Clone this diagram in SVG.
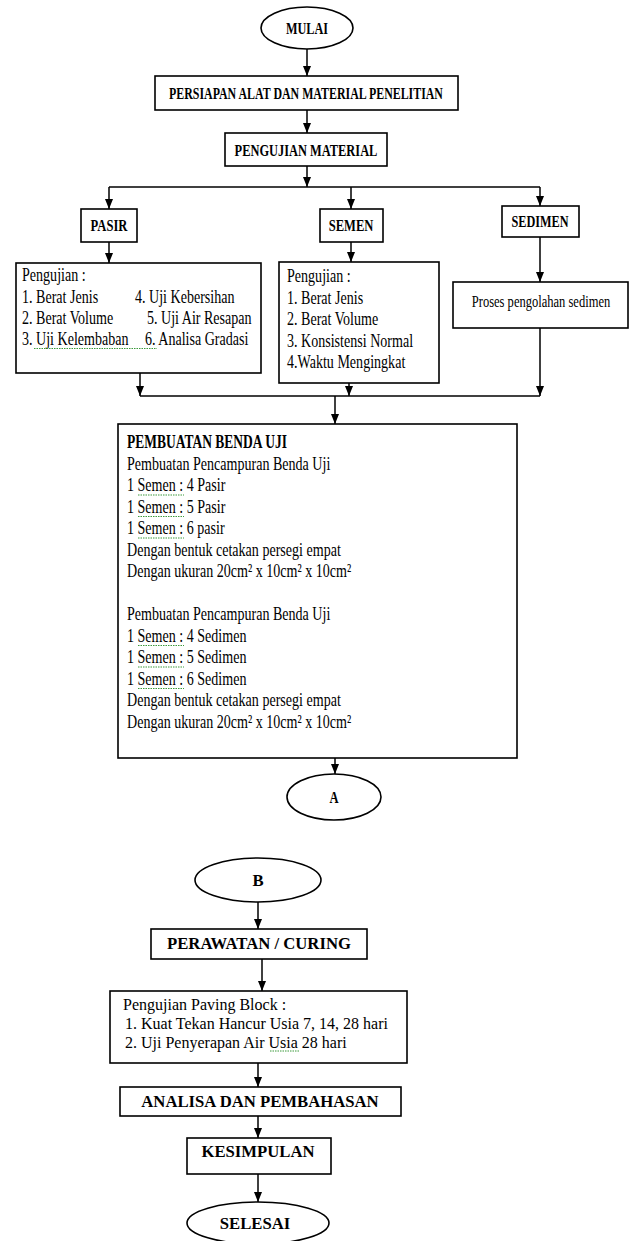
<svg xmlns="http://www.w3.org/2000/svg" width="640" height="1241" viewBox="0 0 640 1241">
<style>
.t{font-family:"Liberation Serif","Times New Roman",serif;fill:#000}
.tt{font-size:17px;font-weight:bold}
.tx{font-size:19px}
.tp{font-size:16.5px}
.bt{font-size:16.7px;font-weight:bold}
.bx{font-size:16px}
.box{fill:#fff;stroke:#000;stroke-width:1.6}
.ln{fill:none;stroke:#000;stroke-width:1.5}
.sq{fill:none;stroke:#3c9a3c;stroke-width:1.2;stroke-dasharray:1.5 1}
</style>
<defs>
<marker id="ah" markerUnits="userSpaceOnUse" markerWidth="10" markerHeight="8" viewBox="0 0 10 8" refX="10" refY="4" orient="auto">
<path d="M0,0 L10,4 L0,8 z" fill="#000"/>
</marker>
</defs>
<rect width="640" height="1241" fill="#fff"/>

<g id="connectors">
<path class="ln" d="M307,49 V76" marker-end="url(#ah)"/>
<path class="ln" d="M307,110 V133" marker-end="url(#ah)"/>
<path class="ln" d="M307,166 V187" marker-end="url(#ah)"/>
<path class="ln" d="M109,187 H540"/>
<path class="ln" d="M109,187 V209" marker-end="url(#ah)"/>
<path class="ln" d="M351,187 V209" marker-end="url(#ah)"/>
<path class="ln" d="M540,187 V206" marker-end="url(#ah)"/>
<path class="ln" d="M109,242 V263" marker-end="url(#ah)"/>
<path class="ln" d="M351,242 V262" marker-end="url(#ah)"/>
<path class="ln" d="M540,237 V282" marker-end="url(#ah)"/>
<path class="ln" d="M140,373 V396" marker-end="url(#ah)"/>
<path class="ln" d="M349,370 V396" marker-end="url(#ah)"/>
<path class="ln" d="M540,328 V396" marker-end="url(#ah)"/>
<path class="ln" d="M140,396 H540"/>
<path class="ln" d="M335,396 V424" marker-end="url(#ah)"/>
<path class="ln" d="M335,752 V774" marker-end="url(#ah)"/>
<path class="ln" d="M258,902 V929" marker-end="url(#ah)"/>
<path class="ln" d="M262,959 V991" marker-end="url(#ah)"/>
<path class="ln" d="M258,1063 V1087" marker-end="url(#ah)"/>
<path class="ln" d="M258,1116 V1138" marker-end="url(#ah)"/>
<path class="ln" d="M258,1174 V1202" marker-end="url(#ah)"/>
</g>

<g id="mulai">
<ellipse class="box" cx="307" cy="28" rx="46" ry="21"/>
<text class="t tt" text-anchor="middle" transform="translate(307 34) scale(0.72 1)">MULAI</text>
</g>

<g id="persiapan">
<rect class="box" x="155" y="76" width="303" height="34"/>
<text class="t tt" text-anchor="middle" transform="translate(306 99) scale(0.7 1)">PERSIAPAN ALAT DAN MATERIAL PENELITIAN</text>
</g>

<g id="pengujian-material">
<rect class="box" x="225" y="133" width="162" height="33"/>
<text class="t tt" text-anchor="middle" transform="translate(306 155.5) scale(0.73 1)">PENGUJIAN MATERIAL</text>
</g>

<g id="pasir">
<rect class="box" x="81" y="209" width="56" height="33"/>
<text class="t tt" text-anchor="middle" transform="translate(109 231) scale(0.74 1)">PASIR</text>
</g>

<g id="semen">
<rect class="box" x="320" y="209" width="63" height="33"/>
<text class="t tt" text-anchor="middle" transform="translate(351 231) scale(0.74 1)">SEMEN</text>
</g>

<g id="sedimen">
<rect class="box" x="502" y="206" width="77" height="31"/>
<text class="t tt" text-anchor="middle" transform="translate(540 227) scale(0.72 1)">SEDIMEN</text>
</g>

<g id="uji-pasir">
<rect class="box" x="16" y="263" width="245" height="110"/>
<text class="t tx" transform="translate(22 281) scale(0.74 1)">Pengujian :</text>
<text class="t tx" transform="translate(22 302.5) scale(0.74 1)">1. Berat Jenis</text>
<text class="t tx" transform="translate(135 302.5) scale(0.74 1)">4. Uji Kebersihan</text>
<text class="t tx" transform="translate(22 323.5) scale(0.74 1)">2. Berat Volume</text>
<text class="t tx" transform="translate(147 323.5) scale(0.74 1)">5. Uji Air Resapan</text>
<text class="t tx" transform="translate(22 344.5) scale(0.74 1)">3. Uji Kelembaban</text>
<text class="t tx" transform="translate(145 344.5) scale(0.74 1)">6. Analisa Gradasi</text>
<path class="sq" d="M34,348.5 H157"/>
</g>

<g id="uji-semen">
<rect class="box" x="279" y="262" width="160" height="121"/>
<text class="t tx" transform="translate(287 282) scale(0.74 1)">Pengujian :</text>
<text class="t tx" transform="translate(287 303.5) scale(0.74 1)">1. Berat Jenis</text>
<text class="t tx" transform="translate(287 325) scale(0.74 1)">2. Berat Volume</text>
<text class="t tx" transform="translate(287 346.5) scale(0.74 1)">3. Konsistensi Normal</text>
<text class="t tx" transform="translate(287 368) scale(0.74 1)">4.Waktu Mengingkat</text>
</g>

<g id="proses-sedimen">
<rect class="box" x="453" y="282" width="175" height="46"/>
<text class="t tp" text-anchor="middle" transform="translate(541 307) scale(0.76 1)">Proses pengolahan sedimen</text>
</g>

<g id="pembuatan">
<rect class="box" x="118" y="424" width="399" height="334"/>
<text class="t" font-size="18.5" font-weight="bold" transform="translate(127 448) scale(0.73 1)">PEMBUATAN BENDA UJI</text>
<text class="t tx" transform="translate(127 469.5) scale(0.74 1)">Pembuatan Pencampuran Benda Uji</text>
<text class="t tx" transform="translate(127 491) scale(0.74 1)">1 Semen : 4 Pasir</text>
<text class="t tx" transform="translate(127 512.5) scale(0.74 1)">1 Semen : 5 Pasir</text>
<text class="t tx" transform="translate(127 534) scale(0.74 1)">1 Semen : 6 pasir</text>
<text class="t tx" transform="translate(127 555.5) scale(0.74 1)">Dengan bentuk cetakan persegi empat</text>
<text class="t tx" transform="translate(127 577) scale(0.74 1)">Dengan ukuran 20cm² x 10cm² x 10cm²</text>
<text class="t tx" transform="translate(127 620) scale(0.74 1)">Pembuatan Pencampuran Benda Uji</text>
<text class="t tx" transform="translate(127 641.5) scale(0.74 1)">1 Semen : 4 Sedimen</text>
<text class="t tx" transform="translate(127 663) scale(0.74 1)">1 Semen : 5 Sedimen</text>
<text class="t tx" transform="translate(127 684.5) scale(0.74 1)">1 Semen : 6 Sedimen</text>
<text class="t tx" transform="translate(127 706) scale(0.74 1)">Dengan bentuk cetakan persegi empat</text>
<text class="t tx" transform="translate(127 727.5) scale(0.74 1)">Dengan ukuran 20cm² x 10cm² x 10cm²</text>
<path class="sq" d="M138,495 H184 M138,516.5 H184 M138,538 H184 M138,645.5 H184 M138,667 H184 M138,688.5 H184"/>
</g>

<g id="a">
<ellipse class="box" cx="334" cy="797" rx="47" ry="23"/>
<text class="t tt" text-anchor="middle" transform="translate(334 803) scale(0.74 1)">A</text>
</g>

<g id="b">
<ellipse class="box" cx="258" cy="880" rx="63" ry="22"/>
<text class="t bt" text-anchor="middle" x="258" y="886">B</text>
</g>

<g id="perawatan">
<rect class="box" x="151" y="929" width="216" height="30"/>
<text class="t bt" text-anchor="middle" x="259" y="949">PERAWATAN / CURING</text>
</g>

<g id="pengujian-paving">
<rect class="box" x="110" y="991" width="297" height="72"/>
<text class="t bx" x="123" y="1010">Pengujian Paving Block :</text>
<text class="t bx" x="125" y="1029">1. Kuat Tekan Hancur Usia 7, 14, 28 hari</text>
<text class="t bx" x="125" y="1048">2. Uji Penyerapan Air Usia 28 hari</text>
<path class="sq" d="M270,1051 H299"/>
</g>

<g id="analisa">
<rect class="box" x="120" y="1087" width="281" height="29"/>
<text class="t bt" text-anchor="middle" x="260" y="1107">ANALISA DAN PEMBAHASAN</text>
</g>

<g id="kesimpulan">
<rect class="box" x="187" y="1138" width="144" height="36"/>
<text class="t bt" text-anchor="middle" x="258" y="1157">KESIMPULAN</text>
</g>

<g id="selesai">
<ellipse class="box" cx="258" cy="1223" rx="71" ry="21"/>
<text class="t bt" text-anchor="middle" x="255" y="1229">SELESAI</text>
</g>
</svg>
